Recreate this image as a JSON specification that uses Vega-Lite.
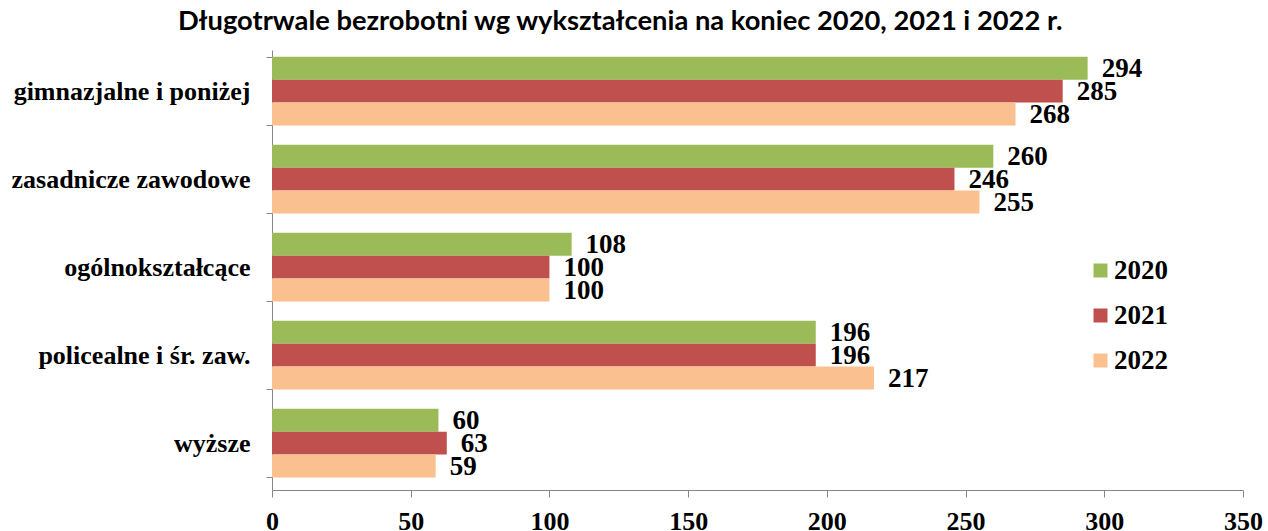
{
  "$schema": "https://vega.github.io/schema/vega-lite/v6.json",
  "width": 971,
  "height": 440,
  "autosize": {"type": "none"},
  "padding": {"left": 272, "top": 50, "right": 25, "bottom": 41},
  "background": "white",
  "config": {"view": {"stroke": null}},
  "title": {
    "text": "Długotrwale bezrobotni wg wykształcenia na koniec 2020, 2021 i 2022 r.",
    "font": "Lato",
    "fontSize": 27.3,
    "fontWeight": "bold",
    "color": "#000000",
    "anchor": "start",
    "frame": "group",
    "dx": -94,
    "dy": 36,
    "baseline": "bottom",
    "offset": 10
  },
  "data": {
    "values": [
      {"kat": "gimnazjalne i poniżej", "rok": "2020", "v": 294},
      {"kat": "gimnazjalne i poniżej", "rok": "2021", "v": 285},
      {"kat": "gimnazjalne i poniżej", "rok": "2022", "v": 268},
      {"kat": "zasadnicze zawodowe", "rok": "2020", "v": 260},
      {"kat": "zasadnicze zawodowe", "rok": "2021", "v": 246},
      {"kat": "zasadnicze zawodowe", "rok": "2022", "v": 255},
      {"kat": "ogólnokształcące", "rok": "2020", "v": 108},
      {"kat": "ogólnokształcące", "rok": "2021", "v": 100},
      {"kat": "ogólnokształcące", "rok": "2022", "v": 100},
      {"kat": "policealne i śr. zaw.", "rok": "2020", "v": 196},
      {"kat": "policealne i śr. zaw.", "rok": "2021", "v": 196},
      {"kat": "policealne i śr. zaw.", "rok": "2022", "v": 217},
      {"kat": "wyższe", "rok": "2020", "v": 60},
      {"kat": "wyższe", "rok": "2021", "v": 63},
      {"kat": "wyższe", "rok": "2022", "v": 59}
    ]
  },
  "encoding": {
    "y": {
      "field": "kat",
      "type": "nominal",
      "sort": null,
      "scale": {"paddingInner": 0.22, "paddingOuter": 0.11, "align": 0.35},
      "axis": {
        "title": null,
        "domainColor": "#868686",
        "tickColor": "#868686",
        "tickSize": 6,
        "tickBand": "extent",
        "labelFont": "Liberation Serif",
        "labelFontSize": 26,
        "labelFontWeight": "bold",
        "labelColor": "#000000",
        "labelPadding": 16,
        "labelLimit": 400
      }
    },
    "x": {
      "field": "v",
      "type": "quantitative",
      "scale": {"domain": [0, 350], "nice": false},
      "axis": {
        "title": null,
        "values": [0, 50, 100, 150, 200, 250, 300, 350],
        "grid": false,
        "domainColor": "#868686",
        "tickColor": "#868686",
        "tickSize": 7,
        "labelFont": "Liberation Serif",
        "labelFontSize": 26,
        "labelFontWeight": "bold",
        "labelColor": "#000000",
        "labelPadding": 11,
        "labelFlush": false
      }
    },
    "yOffset": {"field": "rok", "type": "nominal", "sort": ["2020", "2021", "2022"]}
  },
  "layer": [
    {
      "mark": {"type": "bar"},
      "encoding": {
        "color": {
          "field": "rok",
          "type": "nominal",
          "scale": {"domain": ["2020", "2021", "2022"], "range": ["#9BBB59", "#C0504D", "#FAC090"]},
          "legend": {
            "title": null,
            "orient": "none",
            "legendX": 815,
            "legendY": 207,
            "symbolType": "square",
            "symbolSize": 196,
            "symbolStrokeWidth": 0,
            "labelFont": "Liberation Serif",
            "labelFontSize": 27,
            "labelFontWeight": "bold",
            "labelColor": "#000000",
            "labelOffset": 0,
            "rowPadding": 17
          }
        }
      }
    },
    {
      "mark": {
        "type": "text",
        "align": "left",
        "baseline": "middle",
        "dx": 14,
        "dy": 1,
        "font": "Liberation Serif",
        "fontSize": 27,
        "fontWeight": "bold",
        "color": "#000000"
      },
      "encoding": {"text": {"field": "v", "type": "quantitative"}}
    }
  ]
}
